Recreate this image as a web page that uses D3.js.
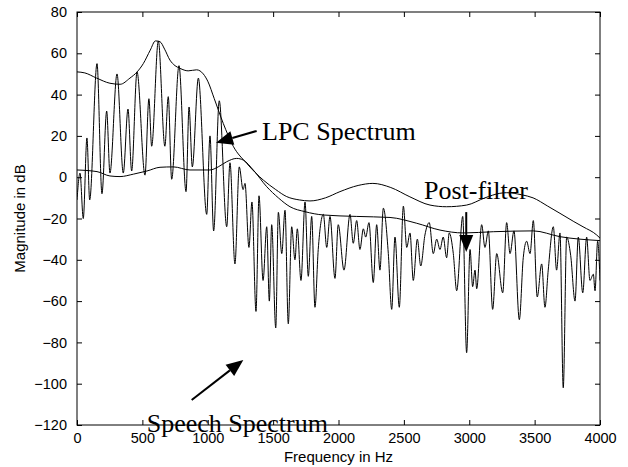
<!DOCTYPE html>
<html>
<head>
<meta charset="utf-8">
<script src="https://cdn.jsdelivr.net/npm/d3@7"></script>
<style>
  body { margin: 0; background: #fff; }
  svg { display: block; }
  .axis text { font-family: Arial, "Liberation Sans", sans-serif; font-size: 14.5px; fill: #000; }
  .title { font-family: Arial, "Liberation Sans", sans-serif; font-size: 15px; fill: #000; }
  .note { font-family: "Times New Roman", "Liberation Serif", serif; font-size: 26px; fill: #000; }
</style>
</head>
<body>
<svg id="chart"></svg>
<script>
const WIDTH = 628;
const HEIGHT = 467;
const margin = {top: 12, right: 28, bottom: 42, left: 77};

// x ticks (Hz) and y ticks (dB)
const xTicks = [0, 500, 1000, 1500, 2000, 2500, 3000, 3500, 4000];
const yTicks = [80, 60, 40, 20, 0, -20, -40, -60, -80, -100, -120];

// LPC spectrum envelope: [Hz, dB]
const lpc = [
  [0, 51], [60, 50.5], [150, 48], [252, 45.5], [330, 45], [405, 48], [460, 51],
  [507, 55], [560, 61.5], [600, 66], [635, 65.6], [670, 62], [711, 56.7],
  [750, 54], [788, 52.7], [850, 51.5], [915, 52], [966, 50], [1000, 46.5],
  [1050, 38], [1119, 26], [1195, 15], [1298, 6.7], [1425, -1.4], [1520, -6],
  [1604, -9.4], [1700, -11], [1782, -11.5], [1900, -10], [2011, -7], [2150, -4],
  [2263, -3], [2400, -5], [2546, -9.5], [2700, -13.5], [2826, -14.3],
  [2980, -13.5], [3120, -10], [3234, -7.8], [3286, -7.5], [3400, -8.5],
  [3488, -10], [3600, -14], [3694, -17.5], [3800, -21.5], [3870, -24],
  [3975, -28], [4000, -29.5]
];

// Post-filter response: [Hz, dB]
const postFilter = [
  [0, 3.5], [153, 2.7], [252, 0.6], [329, 0.3], [433, 1.5], [535, 3],
  [635, 4.8], [737, 5], [864, 3.5], [1017, 3.5], [1080, 5], [1145, 7.5],
  [1221, 9.1], [1272, 8.3], [1348, 3.5], [1451, -4.6], [1540, -10],
  [1629, -14.3], [1744, -16.7], [1884, -18.3], [2139, -19], [2394, -19.5],
  [2598, -22.3], [2776, -25.6], [2955, -27], [3184, -26.4], [3490, -26],
  [3694, -28.8], [4000, -30.7]
];

// Speech spectrum, peaks and nulls: [Hz, dB]
const speech = [
  [0, -11], [23, 2], [48, -20], [76, 19], [97, -11], [153, 55], [191, -8],
  [227, 32], [252, 2], [306, 50], [354, 2], [390, 33], [418, 3], [459, 51],
  [520, 1], [550, 38], [571, 15], [622, 66], [672, 15], [698, 39], [724, -1],
  [780, 54], [834, -7], [857, 34], [882, 5], [928, 48], [992, -18], [1017, 20],
  [1045, -26], [1088, 37], [1145, -24], [1170, 7], [1208, -42], [1241, 5],
  [1270, -6], [1285, -3], [1315, -34], [1338, -12], [1369, -65], [1392, -9],
  [1423, -50], [1451, -24], [1471, -60], [1489, -23], [1520, -73], [1540, -17],
  [1566, -37], [1591, -16], [1616, -71], [1642, -24], [1667, -40], [1685, -25],
  [1713, -50], [1744, -12], [1769, -48], [1795, -19], [1820, -63], [1845, -35],
  [1884, -18], [1910, -34], [1935, -19], [1973, -49], [1998, -23], [2042, -45],
  [2088, -18], [2113, -32], [2139, -21], [2164, -35], [2190, -25], [2208, -29],
  [2233, -22], [2266, -51], [2292, -23], [2317, -45], [2343, -15], [2381, -37],
  [2407, -64], [2432, -29], [2465, -63], [2496, -14], [2522, -34], [2547, -27],
  [2572, -50], [2603, -30], [2629, -43], [2661, -28], [2694, -22], [2725, -37],
  [2751, -30], [2776, -35], [2801, -29], [2827, -39], [2847, -27], [2878, -37],
  [2904, -55], [2950, -19], [2980, -85], [3006, -35], [3026, -53], [3044, -45],
  [3057, -54], [3095, -23], [3120, -34], [3146, -26], [3179, -64], [3210, -37],
  [3256, -56], [3286, -22], [3312, -37], [3342, -26], [3383, -69], [3413, -39],
  [3439, -31], [3465, -37], [3490, -21], [3520, -58], [3554, -42], [3579, -63],
  [3604, -45], [3643, -24], [3668, -45], [3694, -27], [3719, -102], [3745, -29],
  [3776, -38], [3809, -60], [3834, -29], [3868, -56], [3898, -29], [3923, -50],
  [3949, -47], [3962, -55], [3982, -31], [4000, -50]
];

// Annotations in data units: text position, arrow tail, arrow tip
const notes = [
  {label: 'LPC Spectrum', text: [1415, 18], from: [1374, 22.4], to: [1063, 16.7]},
  {label: 'Post-filter', text: [2654, -10.7], from: [2977, -16.9], to: [2977, -36.2]},
  {label: 'Speech Spectrum', text: [533, -123.4], from: [877, -107.9], to: [1272, -88.5]}
];

const innerW = WIDTH - margin.left - margin.right;
const innerH = HEIGHT - margin.top - margin.bottom;

const svg = d3.select('#chart')
  .attr('width', WIDTH)
  .attr('height', HEIGHT)
  .attr('viewBox', `0 0 ${WIDTH} ${HEIGHT}`);

const x = d3.scaleLinear().domain([0, 4000]).range([margin.left, margin.left + innerW]);
const y = d3.scaleLinear().domain([-120, 80]).range([margin.top + innerH, margin.top]);

svg.append('defs').append('clipPath').attr('id', 'plot-clip')
  .append('rect')
  .attr('x', x(0)).attr('y', y(80))
  .attr('width', innerW).attr('height', innerH);

// Axes: inward ticks on all four sides, labels only bottom/left.
const tickLen = 5;
svg.append('g').attr('class', 'axis')
  .attr('transform', `translate(0,${y(-120)})`)
  .call(d3.axisBottom(x).tickValues(xTicks).tickFormat(d3.format('d'))
    .tickSizeInner(-tickLen).tickSizeOuter(0).tickPadding(8))
  .call(g => g.select('.domain').remove());
svg.append('g').attr('class', 'axis')
  .attr('transform', `translate(${x(0)},0)`)
  .call(d3.axisLeft(y).tickValues(yTicks).tickSizeInner(-tickLen).tickSizeOuter(0).tickPadding(10))
  .call(g => g.select('.domain').remove());
svg.append('g').attr('class', 'axis')
  .attr('transform', `translate(0,${y(80)})`)
  .call(d3.axisTop(x).tickValues(xTicks).tickSizeInner(-tickLen).tickSizeOuter(0).tickFormat(''))
  .call(g => g.select('.domain').remove());
svg.append('g').attr('class', 'axis')
  .attr('transform', `translate(${x(4000)},0)`)
  .call(d3.axisRight(y).tickValues(yTicks).tickSizeInner(-tickLen).tickSizeOuter(0).tickFormat(''))
  .call(g => g.select('.domain').remove());
svg.selectAll('.axis line').attr('stroke', '#000');

svg.append('rect')
  .attr('x', x(0)).attr('y', y(80))
  .attr('width', innerW).attr('height', innerH)
  .attr('fill', 'none').attr('stroke', '#000').attr('stroke-width', 1);

// Curves
const plot = svg.append('g').attr('clip-path', 'url(#plot-clip)');
const smoothLine = d3.line().x(d => x(d[0])).y(d => y(d[1])).curve(d3.curveMonotoneX);

plot.append('path').datum(speech)
  .attr('d', smoothLine)
  .attr('fill', 'none').attr('stroke', '#000').attr('stroke-width', 1);
plot.append('path').datum(lpc)
  .attr('d', smoothLine)
  .attr('fill', 'none').attr('stroke', '#000').attr('stroke-width', 1);
plot.append('path').datum(postFilter)
  .attr('d', smoothLine)
  .attr('fill', 'none').attr('stroke', '#000').attr('stroke-width', 1);

// Axis titles
svg.append('text').attr('class', 'title')
  .attr('x', x(2000)).attr('y', 462)
  .attr('text-anchor', 'middle')
  .text('Frequency in Hz');
svg.append('text').attr('class', 'title')
  .attr('transform', `translate(25,${y(-20)}) rotate(-90)`)
  .attr('text-anchor', 'middle')
  .text('Magnitude in dB');

// Annotations with filled arrow heads
const headLen = 17, headHalf = 7;
for (const n of notes) {
  const x1 = x(n.from[0]), y1 = y(n.from[1]);
  const x2 = x(n.to[0]), y2 = y(n.to[1]);
  const ang = Math.atan2(y2 - y1, x2 - x1);
  const bx = x2 - headLen * Math.cos(ang), by = y2 - headLen * Math.sin(ang);
  svg.append('line')
    .attr('x1', x1).attr('y1', y1).attr('x2', bx).attr('y2', by)
    .attr('stroke', '#000').attr('stroke-width', 2);
  svg.append('path')
    .attr('d', `M${x2},${y2}L${bx + headHalf * Math.sin(ang)},${by - headHalf * Math.cos(ang)}L${bx - headHalf * Math.sin(ang)},${by + headHalf * Math.cos(ang)}Z`)
    .attr('fill', '#000');
  svg.append('text').attr('class', 'note')
    .attr('x', x(n.text[0])).attr('y', y(n.text[1]))
    .text(n.label);
}
</script>
</body>
</html>
